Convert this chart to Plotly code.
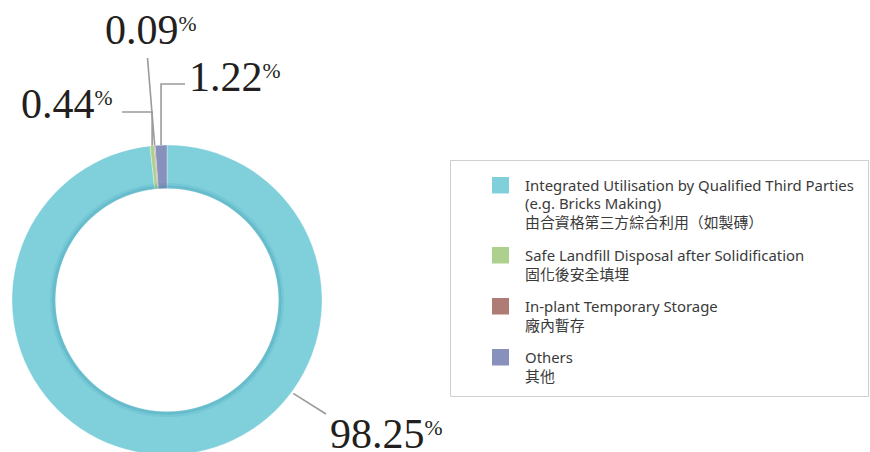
import math
import plotly.graph_objects as go

# ---- data ----
categories_en = [
    "Integrated Utilisation by Qualified Third Parties<br>(e.g. Bricks Making)",
    "Safe Landfill Disposal after Solidification",
    "In-plant Temporary Storage",
    "Others",
]
categories_zh = [
    "由合資格第三方綜合利用（如製磚）",
    "固化後安全填埋",
    "廠內暫存",
    "其他",
]
values = [98.25, 0.44, 0.09, 1.22]
value_labels = ["98.25", "0.44", "0.09", "1.22"]
colors = ["#80d0dc", "#aed08f", "#ae7c74", "#8891bc"]

W, H = 870, 460          # page shows the top 452 px
CX, CY, R = 167.0, 300.0, 155.0   # pie centre / radius in screen px
HOLE = 0.72


def px(x):
    return x / W


def py(y):
    return 1 - y / H


fig = go.Figure()
fig.add_trace(go.Pie(
    values=values,
    labels=[c.replace("<br>", " ") for c in categories_en],
    marker=dict(colors=colors, line=dict(color="rgba(255,255,255,0.5)", width=0.6)),
    hole=HOLE,
    sort=False,
    direction="clockwise",
    rotation=0,
    textinfo="none",
    hoverinfo="label+percent",
    showlegend=False,
    domain=dict(x=[px(CX - R), px(CX + R)], y=[py(CY + R), py(CY - R)]),
))

# subtle inner shading
for rr, w, a in [(R * HOLE + 1.5, 3, 0.28), (R * HOLE + 4.0, 3, 0.12)]:
    fig.add_shape(type="circle", xref="paper", yref="paper",
                  x0=px(CX - rr), x1=px(CX + rr), y0=py(CY + rr), y1=py(CY - rr),
                  line=dict(color=f"rgba(40,140,165,{a})", width=w))

# slice angles from data (clockwise from top)
total = sum(values)
mids = []
acc = 0.0
for v in values:
    mids.append((acc + v / 2) / total * 360)
    acc += v


def edge_point(theta_deg, r):
    t = math.radians(theta_deg)
    return CX + r * math.sin(t), CY - r * math.cos(t)


line_style = dict(color="#9a9a9a", width=1.6)

# Others (1.22)
x3, y3 = edge_point(mids[3], R)
fig.add_shape(type="path", xref="paper", yref="paper",
              path=f"M {px(x3)} {py(y3)} L {px(x3)} {py(84)} L {px(185)} {py(84)}",
              line=line_style)
# In-plant (0.09)
x2, y2 = edge_point(mids[2], R)
fig.add_shape(type="line", xref="paper", yref="paper",
              x0=px(x2), y0=py(y2), x1=px(147.5), y1=py(58), line=line_style)
# Safe landfill (0.44)
x1_, y1_ = edge_point(mids[1], R)
fig.add_shape(type="path", xref="paper", yref="paper",
              path=f"M {px(x1_)} {py(y1_)} L {px(x1_)} {py(112)} L {px(122)} {py(112)}",
              line=line_style)
# Integrated (98.25)
x0_, y0_ = edge_point(126.5, R + 2)
fig.add_shape(type="line", xref="paper", yref="paper",
              x0=px(x0_), y0=py(y0_), x1=px(326), y1=py(414), line=line_style)

label_pos = [(328, 434), (19, 104), (103, 30), (187, 77)]
for lab, (lx, ly) in zip(value_labels, label_pos):
    fig.add_annotation(
        xref="paper", yref="paper", x=px(lx), y=py(ly),
        xanchor="left", yanchor="middle", showarrow=False,
        text=f"<span style='font-size:42px'>{lab}</span><sup>%</sup>",
        font=dict(family="Liberation Serif, DejaVu Serif, serif", size=31, color="#231f20"),
    )

# legend box
fig.add_shape(type="rect", xref="paper", yref="paper",
              x0=px(450.5), x1=px(868.5), y0=py(160.5), y1=py(396.5),
              line=dict(color="#cfcfcf", width=1), fillcolor="rgba(0,0,0,0)")

sq_tops = [177, 247, 298, 349]
line_h = 18.5
for en, zh, col, top in zip(categories_en, categories_zh, colors, sq_tops):
    fig.add_shape(type="rect", xref="paper", yref="paper",
                  x0=px(492), x1=px(509), y0=py(top + 16.5), y1=py(top),
                  fillcolor=col, line=dict(width=0))
    lines = en.split("<br>") + [zh]
    for i, t in enumerate(lines):
        fig.add_annotation(
            xref="paper", yref="paper", x=px(523), y=py(top + 8 + i * line_h),
            xanchor="left", yanchor="middle", showarrow=False, text=t,
            font=dict(family="Noto Sans, Noto Sans CJK TC, sans-serif", size=14.9, color="#3a3a3a"),
        )

fig.update_layout(
    width=W, height=H,
    margin=dict(l=0, r=0, t=0, b=0),
    paper_bgcolor="white", plot_bgcolor="white",
)

fig.write_html(
    "out.html",
    config={"displayModeBar": False},
    post_script="document.body.style.margin='0';document.body.style.overflow='hidden';"
                "document.documentElement.style.overflow='hidden';",
)
